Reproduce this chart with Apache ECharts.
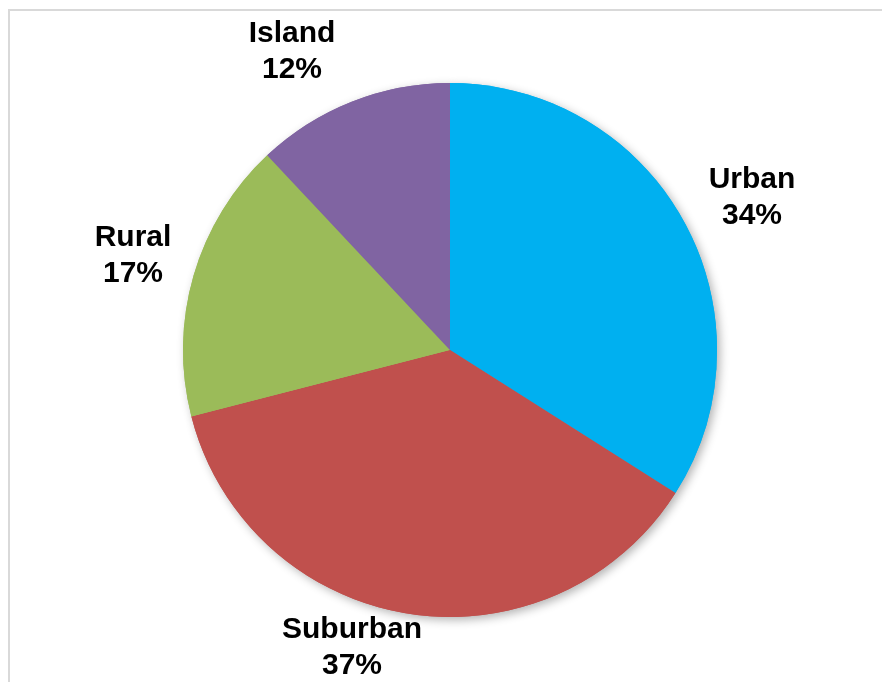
<!DOCTYPE html>
<html>
<head>
<meta charset="utf-8">
<script src="https://cdn.jsdelivr.net/npm/echarts@6/dist/echarts.min.js"></script>
<style>
  html, body { margin: 0; padding: 0; background: #ffffff; }
  #chart { width: 882px; height: 682px; }
</style>
</head>
<body>
<div id="chart"></div>
<script>
// Share of sites by area type
const categories = ['Urban', 'Suburban', 'Rural', 'Island'];
const shares = [34, 37, 17, 12];
const colors = ['#00B0F0', '#C0504D', '#9BBB59', '#8064A2'];

// Label anchors around the pie (centre of each two-line label)
const labelAnchors = [[752, 198], [352, 648], [133, 256], [292, 52]];

const chart = echarts.init(document.getElementById('chart'), null, { renderer: 'canvas' });

const pieData = categories.map((name, i) => ({
  name,
  value: shares[i],
  itemStyle: { color: colors[i] }
}));

const pieBase = {
  type: 'pie',
  center: [450, 350],
  radius: 267,
  startAngle: 90,
  clockwise: true,
  data: pieData,
  emphasis: { disabled: true }
};

chart.setOption({
  animation: false,
  backgroundColor: '#ffffff',
  graphic: [{
    type: 'rect',
    shape: { x: 9, y: 10, width: 900, height: 700 },
    style: { fill: 'none', stroke: '#d9d9d9', lineWidth: 2 },
    silent: true,
    z: -1
  }],
  series: [
    // soft drop shadow beneath the whole pie
    Object.assign({}, pieBase, {
      z: 1,
      silent: true,
      itemStyle: {
        borderWidth: 0,
        shadowBlur: 10,
        shadowOffsetX: 3,
        shadowOffsetY: 3,
        shadowColor: 'rgba(0,0,0,0.3)'
      },
      label: { show: false },
      labelLine: { show: false }
    }),
    Object.assign({}, pieBase, {
      z: 2,
      itemStyle: { borderWidth: 0 },
      label: {
        show: true,
        position: 'outside',
        formatter: '{b}\n{c}%',
        fontFamily: 'Liberation Sans, Arial, sans-serif',
        fontWeight: 'bold',
        fontSize: 30,
        lineHeight: 36,
        color: '#000000',
        align: 'center'
      },
      labelLine: { show: false },
      labelLayout: function (params) {
        const p = labelAnchors[params.dataIndex];
        return { x: p[0], y: p[1], align: 'center', verticalAlign: 'middle' };
      }
    })
  ]
});
</script>
</body>
</html>
